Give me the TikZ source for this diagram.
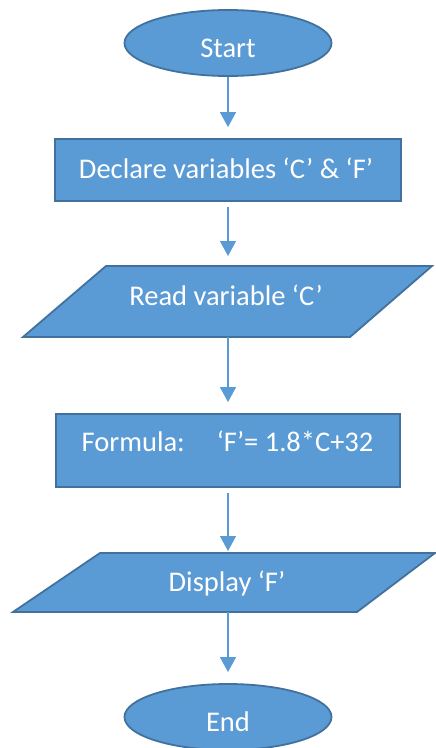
\documentclass[tikz,border=0pt]{standalone}
\usepackage{fontspec}
\setmainfont{Carlito}
\usetikzlibrary{arrows.meta,shapes.geometric}
\definecolor{boxfill}{HTML}{5B9BD5}
\definecolor{boxline}{HTML}{41719C}
\definecolor{arrowcol}{HTML}{5B9BD5}
\tikzset{
  shapestyle/.style={fill=boxfill,draw=boxline,line width=1.8pt},
  term/.style={shapestyle,ellipse,minimum width=207pt,minimum height=66pt,inner sep=0pt},
  procbox/.style={shapestyle,rectangle,inner sep=0pt},
  lbl/.style={text=white,font=\fontsize{28.5}{34}\selectfont,inner sep=0pt,anchor=base},
  conn/.style={draw=arrowcol,line width=1.3pt,-{Triangle[width=16pt,length=15pt]}}
}
\begin{document}
\begin{tikzpicture}[x=1pt,y=-1pt]
\useasboundingbox (0,0) rectangle (436,748);
% shapes
\node[term] (start) at (228,43) {};
\node[procbox,minimum width=346pt,minimum height=62pt] (declare) at (228,170) {};
\draw[shapestyle] (106,266) -- (432,266) -- (350,337) -- (23,337) -- cycle;
\coordinate (readtop) at (228,266);
\coordinate (readbot) at (228,337);
\node[procbox,minimum width=344pt,minimum height=73pt] (formula) at (228,450.5) {};
\draw[shapestyle] (100,553) -- (435,553) -- (357,612) -- (13,612) -- cycle;
\coordinate (disptop) at (228,553);
\coordinate (dispbot) at (228,612);
\node[term] (end) at (228,717) {};
% labels
\node[lbl] (tstart) at (228,57) {Start};
\node[lbl] (tdeclare) at (226,178) {Declare variables ‘C’ \& ‘F’};
\node[lbl] (tread) at (226,305.7) {Read variable ‘C’};
\node[lbl] (tformula) at (227.5,451.7) {Formula:\hspace{32pt}‘F’= 1.8*C+32};
\node[lbl] (tdisplay) at (227,591.7) {Display ‘F’};
\node[lbl] (tend) at (228,731.7) {End};
% connectors
\draw[conn,shorten >=11pt] (start.south) -- (declare.north);
\draw[conn,shorten <=5pt,shorten >=10pt] (declare.south) -- (readtop);
\draw[conn,shorten >=11pt] (readbot) -- (formula.north);
\draw[conn,shorten <=5pt,shorten >=2pt] (formula.south) -- (disptop);
\draw[conn,shorten >=11pt] (dispbot) -- (end.north);
\end{tikzpicture}
\end{document}
